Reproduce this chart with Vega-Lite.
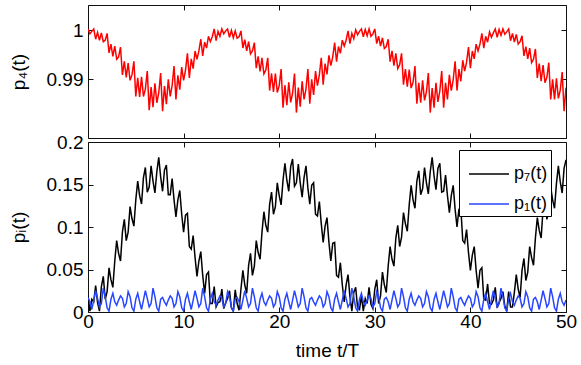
{
"$schema": "https://vega.github.io/schema/vega-lite/v6.json",
"padding": {"left": 8, "top": 4, "right": 16, "bottom": 6},
"bounds": "flush",
"spacing": 4,
"config": {
  "font": "Liberation Sans",
  "view": {"stroke": "#111", "strokeWidth": 1},
  "axis": {"grid": false, "domain": false, "labelFlush": false, "tickSize": -5, "tickColor": "#111", "tickWidth": 1, "labelFontSize": 19, "titleFontSize": 19, "labelColor": "#000", "titleColor": "#000", "titleFontWeight": "normal", "labelFont": "Liberation Sans", "titleFont": "Liberation Sans"}
},
"data": {"values": [
{"t":0,"p4":1.0003,"p7":0.019,"p1":0.017},{"t":0.2,"p4":0.9993,"p7":0.001,"p1":0.012},{"t":0.4,"p4":0.9998,"p7":0.015,"p1":0.003},{"t":0.6,"p4":1.0003,"p7":0.012,"p1":0.014},{"t":0.8,"p4":0.9982,"p7":0.031,"p1":0.025},
{"t":1.0,"p4":0.9996,"p7":0.011,"p1":0.016},{"t":1.2,"p4":0.998,"p7":0.001,"p1":0.006},{"t":1.4,"p4":0.9995,"p7":0.03,"p1":0.01},{"t":1.6,"p4":0.9977,"p7":0.042,"p1":0.028},{"t":1.8,"p4":0.998,"p7":0.015,"p1":0.018},
{"t":2.0,"p4":0.9994,"p7":0.024,"p1":0.005},{"t":2.2,"p4":0.9954,"p7":0.052,"p1":0.001},{"t":2.4,"p4":0.9972,"p7":0.038,"p1":0.015},{"t":2.6,"p4":0.9947,"p7":0.029,"p1":0.022},{"t":2.8,"p4":0.9968,"p7":0.06,"p1":0.012},
{"t":3.0,"p4":0.9941,"p7":0.084,"p1":0.008},{"t":3.2,"p4":0.9946,"p7":0.069,"p1":0.014},{"t":3.4,"p4":0.9966,"p7":0.06,"p1":0.019},{"t":3.6,"p4":0.9909,"p7":0.094,"p1":0.016},{"t":3.8,"p4":0.9937,"p7":0.109,"p1":0.006},
{"t":4.0,"p4":0.9904,"p7":0.084,"p1":0.01},{"t":4.2,"p4":0.9933,"p7":0.094,"p1":0.024},{"t":4.4,"p4":0.9898,"p7":0.124,"p1":0.018},{"t":4.6,"p4":0.9909,"p7":0.11,"p1":0.005},{"t":4.8,"p4":0.9937,"p7":0.101,"p1":0.001},
{"t":5.0,"p4":0.9865,"p7":0.132,"p1":0.015},{"t":5.2,"p4":0.9903,"p7":0.154,"p1":0.022},{"t":5.4,"p4":0.9864,"p7":0.137,"p1":0.012},{"t":5.6,"p4":0.9905,"p7":0.127,"p1":0.003},{"t":5.8,"p4":0.9865,"p7":0.158,"p1":0.014},
{"t":6.0,"p4":0.988,"p7":0.17,"p1":0.025},{"t":6.2,"p4":0.9917,"p7":0.141,"p1":0.016},{"t":6.4,"p4":0.9837,"p7":0.147,"p1":0.006},{"t":6.6,"p4":0.9884,"p7":0.172,"p1":0.01},{"t":6.8,"p4":0.9843,"p7":0.154,"p1":0.028},
{"t":7.0,"p4":0.9892,"p7":0.14,"p1":0.018},{"t":7.2,"p4":0.9852,"p7":0.165,"p1":0.005},{"t":7.4,"p4":0.9872,"p7":0.182,"p1":0.001},{"t":7.6,"p4":0.9913,"p7":0.159,"p1":0.015},{"t":7.8,"p4":0.9835,"p7":0.142,"p1":0.017},
{"t":8.0,"p4":0.9886,"p7":0.167,"p1":0.012},{"t":8.2,"p4":0.9849,"p7":0.173,"p1":0.008},{"t":8.4,"p4":0.99,"p7":0.138,"p1":0.014},{"t":8.6,"p4":0.9865,"p7":0.138,"p1":0.019},{"t":8.8,"p4":0.9887,"p7":0.157,"p1":0.016},
{"t":9.0,"p4":0.9927,"p7":0.132,"p1":0.006},{"t":9.2,"p4":0.9859,"p7":0.112,"p1":0.01},{"t":9.4,"p4":0.9908,"p7":0.132,"p1":0.024},{"t":9.6,"p4":0.9879,"p7":0.143,"p1":0.018},{"t":9.8,"p4":0.9925,"p7":0.115,"p1":0.005},
{"t":10.0,"p4":0.9898,"p7":0.094,"p1":0.001},{"t":10.2,"p4":0.9919,"p7":0.114,"p1":0.015},{"t":10.4,"p4":0.9953,"p7":0.116,"p1":0.022},{"t":10.6,"p4":0.9903,"p7":0.077,"p1":0.012},{"t":10.8,"p4":0.9942,"p7":0.074,"p1":0.003},
{"t":11.0,"p4":0.9922,"p7":0.09,"p1":0.014},{"t":11.2,"p4":0.9958,"p7":0.064,"p1":0.025},{"t":11.4,"p4":0.9941,"p7":0.042,"p1":0.016},{"t":11.6,"p4":0.9958,"p7":0.06,"p1":0.006},{"t":11.8,"p4":0.9982,"p7":0.071,"p1":0.01},
{"t":12.0,"p4":0.9948,"p7":0.043,"p1":0.028},{"t":12.2,"p4":0.9976,"p7":0.022,"p1":0.018},{"t":12.4,"p4":0.9964,"p7":0.044,"p1":0.005},{"t":12.6,"p4":0.9988,"p7":0.047,"p1":0.001},{"t":12.8,"p4":0.9977,"p7":0.01,"p1":0.015},
{"t":13.0,"p4":0.9987,"p7":0.01,"p1":0.022},{"t":13.2,"p4":1.0003,"p7":0.03,"p1":0.012},{"t":13.4,"p4":0.9979,"p7":0.006,"p1":0.008},{"t":13.6,"p4":0.9998,"p7":0.011,"p1":0.014},{"t":13.8,"p4":0.9988,"p7":0.012,"p1":0.019},
{"t":14.0,"p4":1.0003,"p7":0.027,"p1":0.016},{"t":14.2,"p4":0.9993,"p7":0.004,"p1":0.006},{"t":14.4,"p4":0.9999,"p7":0.011,"p1":0.01},{"t":14.6,"p4":1.0003,"p7":0.016,"p1":0.024},{"t":14.8,"p4":0.9986,"p7":0.025,"p1":0.018},
{"t":15.0,"p4":1.0,"p7":0.005,"p1":0.005},{"t":15.2,"p4":0.9985,"p7":0.001,"p1":0.001},{"t":15.4,"p4":0.9999,"p7":0.026,"p1":0.015},{"t":15.6,"p4":0.9984,"p7":0.01,"p1":0.017},{"t":15.8,"p4":0.9987,"p7":0.002,"p1":0.012},
{"t":16.0,"p4":0.9999,"p7":0.027,"p1":0.003},{"t":16.2,"p4":0.9964,"p7":0.049,"p1":0.014},{"t":16.4,"p4":0.9981,"p7":0.032,"p1":0.025},{"t":16.6,"p4":0.9958,"p7":0.022,"p1":0.016},{"t":16.8,"p4":0.9977,"p7":0.055,"p1":0.006},
{"t":17.0,"p4":0.9952,"p7":0.069,"p1":0.01},{"t":17.2,"p4":0.9958,"p7":0.043,"p1":0.028},{"t":17.4,"p4":0.9975,"p7":0.054,"p1":0.018},{"t":17.6,"p4":0.9923,"p7":0.084,"p1":0.005},{"t":17.8,"p4":0.9947,"p7":0.07,"p1":0.001},
{"t":18.0,"p4":0.9916,"p7":0.062,"p1":0.015},{"t":18.2,"p4":0.9944,"p7":0.094,"p1":0.022},{"t":18.4,"p4":0.9911,"p7":0.118,"p1":0.012},{"t":18.6,"p4":0.9919,"p7":0.102,"p1":0.008},{"t":18.8,"p4":0.9944,"p7":0.094,"p1":0.014},
{"t":19.0,"p4":0.9877,"p7":0.127,"p1":0.019},{"t":19.2,"p4":0.9912,"p7":0.141,"p1":0.016},{"t":19.4,"p4":0.9874,"p7":0.115,"p1":0.006},{"t":19.6,"p4":0.9912,"p7":0.124,"p1":0.01},{"t":19.8,"p4":0.9873,"p7":0.152,"p1":0.024},
{"t":20.0,"p4":0.9887,"p7":0.137,"p1":0.018},{"t":20.2,"p4":0.9921,"p7":0.126,"p1":0.005},{"t":20.4,"p4":0.9842,"p7":0.155,"p1":0.001},{"t":20.6,"p4":0.9888,"p7":0.175,"p1":0.015},{"t":20.8,"p4":0.9847,"p7":0.155,"p1":0.022},
{"t":21.0,"p4":0.9894,"p7":0.142,"p1":0.012},{"t":21.2,"p4":0.9853,"p7":0.171,"p1":0.003},{"t":21.4,"p4":0.9872,"p7":0.18,"p1":0.014},{"t":21.6,"p4":0.9912,"p7":0.148,"p1":0.025},{"t":21.8,"p4":0.9832,"p7":0.152,"p1":0.016},
{"t":22.0,"p4":0.9883,"p7":0.174,"p1":0.006},{"t":22.2,"p4":0.9844,"p7":0.152,"p1":0.01},{"t":22.4,"p4":0.9896,"p7":0.135,"p1":0.028},{"t":22.6,"p4":0.9859,"p7":0.158,"p1":0.018},{"t":22.8,"p4":0.988,"p7":0.172,"p1":0.005},
{"t":23.0,"p4":0.9921,"p7":0.146,"p1":0.001},{"t":23.2,"p4":0.985,"p7":0.127,"p1":0.015},{"t":23.4,"p4":0.99,"p7":0.149,"p1":0.017},{"t":23.6,"p4":0.9868,"p7":0.152,"p1":0.012},{"t":23.8,"p4":0.9917,"p7":0.115,"p1":0.008},
{"t":24.0,"p4":0.9887,"p7":0.113,"p1":0.014},{"t":24.2,"p4":0.9909,"p7":0.13,"p1":0.019},{"t":24.4,"p4":0.9944,"p7":0.104,"p1":0.016},{"t":24.6,"p4":0.9889,"p7":0.082,"p1":0.006},{"t":24.8,"p4":0.9932,"p7":0.101,"p1":0.01},
{"t":25.0,"p4":0.991,"p7":0.111,"p1":0.024},{"t":25.2,"p4":0.9949,"p7":0.082,"p1":0.018},{"t":25.4,"p4":0.9928,"p7":0.06,"p1":0.005},{"t":25.6,"p4":0.9946,"p7":0.081,"p1":0.001},{"t":25.8,"p4":0.9975,"p7":0.082,"p1":0.015},
{"t":26.0,"p4":0.9936,"p7":0.043,"p1":0.022},{"t":26.2,"p4":0.9967,"p7":0.041,"p1":0.012},{"t":26.4,"p4":0.9953,"p7":0.058,"p1":0.003},{"t":26.6,"p4":0.998,"p7":0.032,"p1":0.014},{"t":26.8,"p4":0.9968,"p7":0.012,"p1":0.025},
{"t":27.0,"p4":0.998,"p7":0.032,"p1":0.016},{"t":27.2,"p4":0.9999,"p7":0.044,"p1":0.006},{"t":27.4,"p4":0.9973,"p7":0.018,"p1":0.01},{"t":27.6,"p4":0.9994,"p7":0.001,"p1":0.028},{"t":27.8,"p4":0.9983,"p7":0.023,"p1":0.018},
{"t":28.0,"p4":1.0001,"p7":0.029,"p1":0.005},{"t":28.2,"p4":0.9991,"p7":0.005,"p1":0.001},{"t":28.4,"p4":0.9998,"p7":0.003,"p1":0.015},{"t":28.6,"p4":1.0003,"p7":0.019,"p1":0.022},{"t":28.8,"p4":0.9987,"p7":0.001,"p1":0.012},
{"t":29.0,"p4":1.0002,"p7":0.016,"p1":0.008},{"t":29.2,"p4":0.9989,"p7":0.01,"p1":0.014},{"t":29.4,"p4":1.0003,"p7":0.029,"p1":0.019},{"t":29.6,"p4":0.9988,"p7":0.009,"p1":0.016},{"t":29.8,"p4":0.9993,"p7":0.004,"p1":0.006},
{"t":30.0,"p4":1.0003,"p7":0.027,"p1":0.01},{"t":30.2,"p4":0.9973,"p7":0.038,"p1":0.024},{"t":30.4,"p4":0.9988,"p7":0.01,"p1":0.018},{"t":30.6,"p4":0.9968,"p7":0.019,"p1":0.005},{"t":30.8,"p4":0.9985,"p7":0.047,"p1":0.001},
{"t":31.0,"p4":0.9963,"p7":0.032,"p1":0.015},{"t":31.2,"p4":0.9967,"p7":0.023,"p1":0.017},{"t":31.4,"p4":0.9982,"p7":0.054,"p1":0.012},{"t":31.6,"p4":0.9936,"p7":0.077,"p1":0.003},{"t":31.8,"p4":0.9958,"p7":0.062,"p1":0.014},
{"t":32.0,"p4":0.9928,"p7":0.054,"p1":0.025},{"t":32.2,"p4":0.9953,"p7":0.087,"p1":0.016},{"t":32.4,"p4":0.9922,"p7":0.102,"p1":0.006},{"t":32.6,"p4":0.993,"p7":0.077,"p1":0.01},{"t":32.8,"p4":0.9953,"p7":0.088,"p1":0.028},
{"t":33.0,"p4":0.9889,"p7":0.117,"p1":0.018},{"t":33.2,"p4":0.9921,"p7":0.104,"p1":0.005},{"t":33.4,"p4":0.9885,"p7":0.095,"p1":0.001},{"t":33.6,"p4":0.992,"p7":0.126,"p1":0.015},{"t":33.8,"p4":0.9882,"p7":0.149,"p1":0.022},
{"t":34.0,"p4":0.9894,"p7":0.132,"p1":0.012},{"t":34.2,"p4":0.9927,"p7":0.122,"p1":0.008},{"t":34.4,"p4":0.985,"p7":0.154,"p1":0.014},{"t":34.6,"p4":0.9893,"p7":0.166,"p1":0.019},{"t":34.8,"p4":0.9852,"p7":0.138,"p1":0.016},
{"t":35.0,"p4":0.9898,"p7":0.145,"p1":0.006},{"t":35.2,"p4":0.9857,"p7":0.17,"p1":0.01},{"t":35.4,"p4":0.9874,"p7":0.152,"p1":0.024},{"t":35.6,"p4":0.9913,"p7":0.139,"p1":0.018},{"t":35.8,"p4":0.9832,"p7":0.165,"p1":0.005},
{"t":36.0,"p4":0.9882,"p7":0.182,"p1":0.001},{"t":36.2,"p4":0.9842,"p7":0.16,"p1":0.015},{"t":36.4,"p4":0.9893,"p7":0.144,"p1":0.022},{"t":36.6,"p4":0.9854,"p7":0.169,"p1":0.012},{"t":36.8,"p4":0.9876,"p7":0.175,"p1":0.003},
{"t":37.0,"p4":0.9917,"p7":0.141,"p1":0.014},{"t":37.2,"p4":0.9842,"p7":0.142,"p1":0.025},{"t":37.4,"p4":0.9893,"p7":0.161,"p1":0.016},{"t":37.6,"p4":0.9859,"p7":0.137,"p1":0.006},{"t":37.8,"p4":0.9909,"p7":0.117,"p1":0.01},
{"t":38.0,"p4":0.9877,"p7":0.137,"p1":0.028},{"t":38.2,"p4":0.9899,"p7":0.149,"p1":0.018},{"t":38.4,"p4":0.9937,"p7":0.121,"p1":0.005},{"t":38.6,"p4":0.9877,"p7":0.1,"p1":0.001},{"t":38.8,"p4":0.9921,"p7":0.121,"p1":0.015},
{"t":39.0,"p4":0.9896,"p7":0.122,"p1":0.017},{"t":39.2,"p4":0.9939,"p7":0.084,"p1":0.012},{"t":39.4,"p4":0.9917,"p7":0.081,"p1":0.008},{"t":39.6,"p4":0.9935,"p7":0.097,"p1":0.014},{"t":39.8,"p4":0.9966,"p7":0.07,"p1":0.019},
{"t":40.0,"p4":0.9923,"p7":0.049,"p1":0.016},{"t":40.2,"p4":0.9958,"p7":0.067,"p1":0.006},{"t":40.4,"p4":0.9942,"p7":0.077,"p1":0.01},{"t":40.6,"p4":0.9972,"p7":0.049,"p1":0.024},{"t":40.8,"p4":0.9958,"p7":0.028,"p1":0.018},
{"t":41.0,"p4":0.9972,"p7":0.049,"p1":0.005},{"t":41.2,"p4":0.9994,"p7":0.052,"p1":0.001},{"t":41.4,"p4":0.9964,"p7":0.015,"p1":0.015},{"t":41.6,"p4":0.9988,"p7":0.014,"p1":0.022},{"t":41.8,"p4":0.9976,"p7":0.033,"p1":0.012},
{"t":42.0,"p4":0.9997,"p7":0.01,"p1":0.003},{"t":42.2,"p4":0.9986,"p7":0.009,"p1":0.014},{"t":42.4,"p4":0.9995,"p7":0.014,"p1":0.025},{"t":42.6,"p4":1.0003,"p7":0.029,"p1":0.016},{"t":42.8,"p4":0.9986,"p7":0.005,"p1":0.006},
{"t":43.0,"p4":1.0002,"p7":0.011,"p1":0.01},{"t":43.2,"p4":0.999,"p7":0.016,"p1":0.028},{"t":43.4,"p4":1.0003,"p7":0.024,"p1":0.018},{"t":43.6,"p4":0.9992,"p7":0.007,"p1":0.005},{"t":43.8,"p4":0.9997,"p7":0.001,"p1":0.001},
{"t":44.0,"p4":1.0003,"p7":0.024,"p1":0.015},{"t":44.2,"p4":0.9979,"p7":0.006,"p1":0.022},{"t":44.4,"p4":0.9994,"p7":0.006,"p1":0.012},{"t":44.6,"p4":0.9976,"p7":0.023,"p1":0.008},{"t":44.8,"p4":0.9992,"p7":0.044,"p1":0.014},
{"t":45.0,"p4":0.9972,"p7":0.027,"p1":0.019},{"t":45.2,"p4":0.9977,"p7":0.017,"p1":0.016},{"t":45.4,"p4":0.9989,"p7":0.049,"p1":0.006},{"t":45.6,"p4":0.9948,"p7":0.063,"p1":0.01},{"t":45.8,"p4":0.9967,"p7":0.037,"p1":0.024},
{"t":46.0,"p4":0.9942,"p7":0.047,"p1":0.018},{"t":46.2,"p4":0.9964,"p7":0.077,"p1":0.005},{"t":46.4,"p4":0.9934,"p7":0.064,"p1":0.001},{"t":46.6,"p4":0.9941,"p7":0.055,"p1":0.015},{"t":46.8,"p4":0.9962,"p7":0.087,"p1":0.017},
{"t":47.0,"p4":0.9903,"p7":0.111,"p1":0.012},{"t":47.2,"p4":0.9932,"p7":0.096,"p1":0.003},{"t":47.4,"p4":0.9896,"p7":0.087,"p1":0.014},{"t":47.6,"p4":0.9929,"p7":0.121,"p1":0.025},{"t":47.8,"p4":0.9893,"p7":0.135,"p1":0.016},
{"t":48.0,"p4":0.9904,"p7":0.109,"p1":0.006},{"t":48.2,"p4":0.9934,"p7":0.119,"p1":0.01},{"t":48.4,"p4":0.9859,"p7":0.147,"p1":0.028},{"t":48.6,"p4":0.99,"p7":0.132,"p1":0.018},{"t":48.8,"p4":0.9859,"p7":0.122,"p1":0.005},
{"t":49.0,"p4":0.9902,"p7":0.151,"p1":0.001},{"t":49.2,"p4":0.9861,"p7":0.172,"p1":0.015},{"t":49.4,"p4":0.9878,"p7":0.153,"p1":0.022},{"t":49.6,"p4":0.9915,"p7":0.14,"p1":0.012},{"t":49.8,"p4":0.9835,"p7":0.169,"p1":0.008},
{"t":50.0,"p4":0.9883,"p7":0.179,"p1":0.014}
]},
"vconcat": [
  {
    "width": 478, "height": 133,
    "layer": [
      {"mark": {"type": "line", "color": "#ff0000", "strokeWidth": 1.5, "clip": true},
       "encoding": {
         "x": {"field": "t", "type": "quantitative", "scale": {"domain": [0, 50], "nice": false}, "axis": {"orient": "bottom", "values": [0,10,20,30,40,50], "labels": false, "title": null}},
         "y": {"field": "p4", "type": "quantitative", "scale": {"domain": [0.978, 1.0052], "nice": false, "zero": false}, "axis": {"orient": "left", "values": [0.99, 1], "format": "~g", "labelPadding": 10, "title": "p₄(t)", "titlePadding": 18}}
       }},
      {"mark": {"type": "line", "strokeOpacity": 0},
       "encoding": {
         "x": {"field": "t", "type": "quantitative", "scale": {"domain": [0, 50], "nice": false}, "axis": {"orient": "top", "values": [0,10,20,30,40,50], "labels": false, "title": null}},
         "y": {"field": "p4", "type": "quantitative", "scale": {"domain": [0.978, 1.0052], "nice": false, "zero": false}, "axis": {"orient": "right", "values": [0.99, 1], "labels": false, "title": null}}
       }}
    ],
    "resolve": {"axis": {"x": "independent", "y": "independent"}}
  },
  {
    "width": 478, "height": 170,
    "transform": [{"fold": ["p7", "p1"], "as": ["s", "v"]}],
    "layer": [
      {"mark": {"type": "line", "strokeWidth": 1.5, "clip": true},
       "encoding": {
         "x": {"field": "t", "type": "quantitative", "scale": {"domain": [0, 50], "nice": false}, "axis": {"orient": "bottom", "values": [0,10,20,30,40,50], "labelPadding": 5, "title": "time t/T", "titlePadding": 10}},
         "y": {"field": "v", "type": "quantitative", "scale": {"domain": [0, 0.2], "nice": false, "zero": false}, "axis": {"orient": "left", "values": [0, 0.05, 0.1, 0.15, 0.2], "format": "~g", "labelPadding": 10, "title": "pᵢ(t)", "titlePadding": 18}},
         "color": {"field": "s", "type": "nominal", "scale": {"domain": ["p7", "p1"], "range": ["#000000", "#2846ff"]},
           "legend": {"orient": "none", "legendX": 371, "legendY": 145, "title": null, "strokeColor": "#000", "fillColor": "#fff", "padding": 3, "symbolOffset": 6, "symbolType": "stroke", "symbolSize": 1600, "symbolStrokeWidth": 1.5, "labelFontSize": 18, "labelColor": "#000", "labelOffset": 4, "rowPadding": -1, "labelExpr": "datum.value == 'p7' ? 'p₇(t)' : 'p₁(t)'"}}
       }},
      {"mark": {"type": "line", "strokeOpacity": 0},
       "encoding": {
         "x": {"field": "t", "type": "quantitative", "scale": {"domain": [0, 50], "nice": false}, "axis": {"orient": "top", "values": [0,10,20,30,40,50], "labels": false, "title": null}},
         "y": {"field": "v", "type": "quantitative", "scale": {"domain": [0, 0.2], "nice": false, "zero": false}, "axis": {"orient": "right", "values": [0, 0.05, 0.1, 0.15, 0.2], "labels": false, "title": null}},
         "detail": {"field": "s"}
       }}
    ],
    "resolve": {"axis": {"x": "independent", "y": "independent"}}
  }
]
}
